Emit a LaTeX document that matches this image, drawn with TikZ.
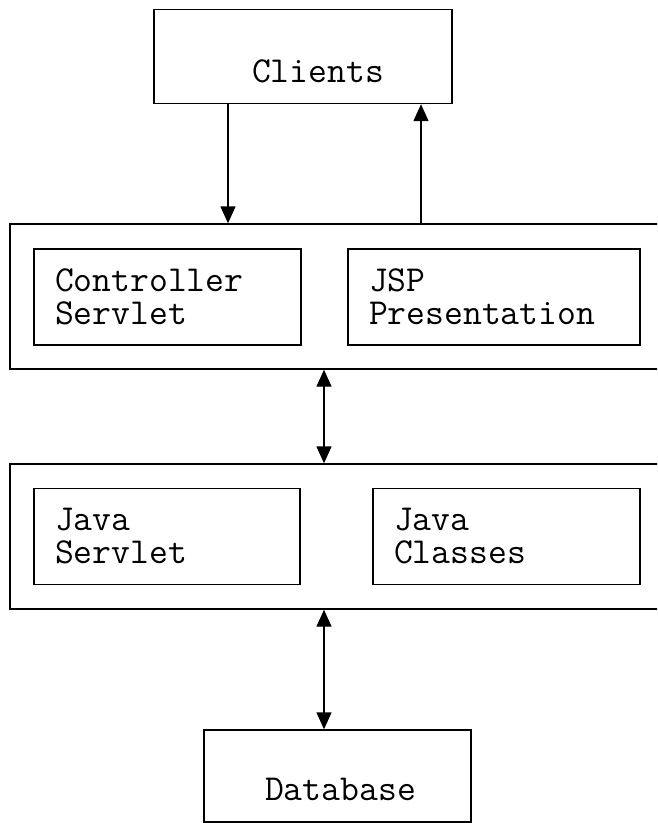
\documentclass[tikz,border=0pt]{standalone}
\usetikzlibrary{arrows.meta}

\begin{document}
\begin{tikzpicture}[x=1pt, y=-1pt, line width=1.4pt, >={Triangle[length=17pt,width=15pt]},
  every node/.style = {shape=rectangle, draw, inner sep=0pt, font=\ttfamily\fontsize{36.6}{33}\selectfont},
  tier/.style = {minimum width=690pt, minimum height=145pt},
  part/.style = {inner xsep=21pt, minimum height=96pt, align=left},
  ends/.style = {minimum height=94pt}]
  \clip (0,0) rectangle (657,823);
  \node[ends, minimum width=298pt,
    label={[draw=none, xshift=15pt, yshift=-15pt]center:Clients}] (clients) at (303,56.5) {};
  \node[tier] (webtier) at (355,296.5) {};
  \node[part, text width=225pt] (ctrl) at (167.5,297) {Controller\\Servlet};
  \node[part, text width=250pt] (jsp) at (494,297) {JSP\\Presentation};
  \node[tier] (biztier) at (355,536.5) {};
  \node[part, text width=224pt] (servlet) at (167,536.5) {Java\\Servlet};
  \node[part, text width=225pt] (classes) at (506.5,536.5) {Java\\Classes};
  \node[ends, minimum width=267pt, minimum height=92pt,
    label={[draw=none, xshift=3pt, yshift=-13pt]center:Database}] (db) at (337.5,776) {};
  \draw[->] ([xshift=-75pt]clients.south) -- ([xshift=-75pt]clients.south |- webtier.north);
  \draw[->] ([xshift=118pt]clients.south |- webtier.north) -- ([xshift=118pt]clients.south);
  \draw[<->] ([xshift=-13.5pt]db.north |- webtier.south) -- ([xshift=-13.5pt]db.north |- biztier.north);
  \draw[<->] ([xshift=-13.5pt]db.north |- biztier.south) -- ([xshift=-13.5pt]db.north);
\end{tikzpicture}
\end{document}
